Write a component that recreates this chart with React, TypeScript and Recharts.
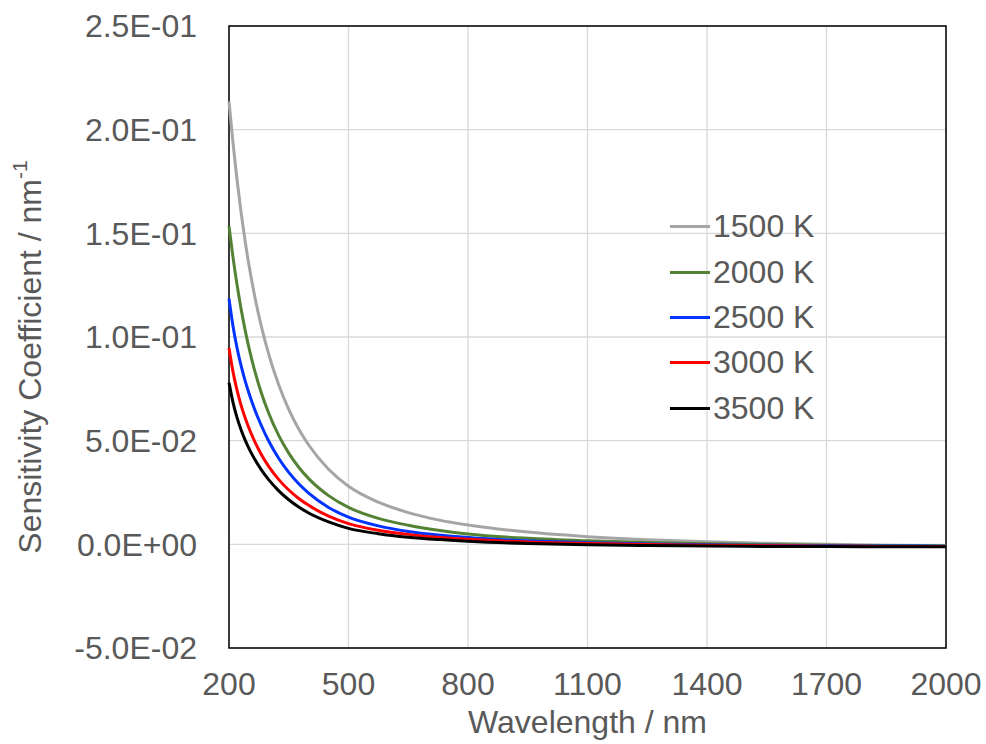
import React from 'react';
import { LineChart, Line, XAxis, YAxis, CartesianGrid, Legend, ReferenceArea } from 'recharts';

const wavelengths = [200, 210, 220, 230, 240, 250, 265, 280, 300, 325, 350, 375, 400, 450, 500, 575, 650, 725, 800, 950, 1100, 1250, 1400, 1550, 1700, 1850, 2000];

const k1500 = [0.2136, 0.1937, 0.1761, 0.1606, 0.1469, 0.1348, 0.1192, 0.1061, 0.0915, 0.0768, 0.0651, 0.0556, 0.0479, 0.0362, 0.0280, 0.0203, 0.0153, 0.0118, 0.0093, 0.0059, 0.0037, 0.0022, 0.0012, 0.0005, 0.0000, -0.0004, -0.0006];
const k2000 = [0.1535, 0.1385, 0.1254, 0.1139, 0.1038, 0.0949, 0.0834, 0.0737, 0.0631, 0.0524, 0.0440, 0.0372, 0.0317, 0.0235, 0.0178, 0.0125, 0.0092, 0.0068, 0.0050, 0.0029, 0.0017, 0.0009, 0.0003, -0.0001, -0.0004, -0.0006, -0.0008];
const k2500 = [0.1185, 0.1053, 0.0949, 0.0864, 0.0792, 0.0730, 0.0648, 0.0578, 0.0497, 0.0414, 0.0347, 0.0292, 0.0247, 0.0178, 0.0131, 0.0089, 0.0062, 0.0045, 0.0033, 0.0017, 0.0008, 0.0002, -0.0002, -0.0005, -0.0007, -0.0008, -0.0009];
const k3000 = [0.0947, 0.0833, 0.0745, 0.0673, 0.0613, 0.0561, 0.0494, 0.0437, 0.0375, 0.0312, 0.0262, 0.0221, 0.0188, 0.0136, 0.0100, 0.0068, 0.0048, 0.0034, 0.0024, 0.0011, 0.0004, -0.0001, -0.0004, -0.0007, -0.0009, -0.0010, -0.0011];
const k3500 = [0.0780, 0.0685, 0.0612, 0.0554, 0.0505, 0.0463, 0.0409, 0.0363, 0.0311, 0.0258, 0.0215, 0.0180, 0.0151, 0.0108, 0.0077, 0.0051, 0.0034, 0.0023, 0.0015, 0.0004, -0.0002, -0.0006, -0.0008, -0.0010, -0.0011, -0.0012, -0.0012];

const seriesNames = ['1500 K', '2000 K', '2500 K', '3000 K', '3500 K'];
const seriesKeys = ['k1500', 'k2000', 'k2500', 'k3000', 'k3500'];
const seriesColors = ['#A5A5A5', '#548235', '#0033FF', '#FF0000', '#000000'];

const xTicks = [200, 500, 800, 1100, 1400, 1700, 2000];
const yTicks = [-0.05, 0, 0.05, 0.1, 0.15, 0.2, 0.25];
const yTickLabels = ['-5.0E-02', '0.0E+00', '5.0E-02', '1.0E-01', '1.5E-01', '2.0E-01', '2.5E-01'];

const data = wavelengths.map((w, i) => ({
  w,
  k1500: k1500[i],
  k2000: k2000[i],
  k2500: k2500[i],
  k3000: k3000[i],
  k3500: k3500[i],
}));

const FONT = '"Liberation Sans", Arial, sans-serif';
const TEXT = '#595959';

const YTitle = () => (
  <text
    x={0}
    y={0}
    transform="translate(30,357) rotate(-90)"
    textAnchor="middle"
    dominantBaseline="central"
    fill={TEXT}
    fontSize={32}
    fontFamily={FONT}
  >
    Sensitivity Coefficient / nm
    <tspan fontSize={21} dy={-11}>-1</tspan>
  </text>
);

const LegendBox = (props: any) => {
  const payload = props.payload || [];
  return (
    <div style={{ fontFamily: FONT }}>
      {payload.map((p: any) => (
        <div key={p.value} style={{ display: 'flex', alignItems: 'center', height: 45.4 }}>
          <span style={{ display: 'inline-block', width: 40, height: 3, background: p.color, marginRight: 3 }} />
          <span style={{ fontSize: 32, color: TEXT, lineHeight: '45px' }}>{p.value}</span>
        </div>
      ))}
    </div>
  );
};

export default function App() {
  return (
    <div style={{ position: 'absolute', left: 0, top: 0, width: 986, height: 744, background: '#fff' }}>
      <LineChart width={986} height={744} data={data} margin={{ top: 26, right: 40, left: 0, bottom: 0 }}>
        <CartesianGrid stroke="#D9D9D9" strokeWidth={1.3} />
        <XAxis
          dataKey="w"
          type="number"
          domain={[200, 2000]}
          ticks={xTicks}
          height={96}
          axisLine={false}
          tickLine={false}
          tickSize={0}
          tickMargin={24}
          tick={{ fill: TEXT, fontSize: 32, fontFamily: FONT }}
          label={{ value: 'Wavelength / nm', position: 'insideBottom', offset: 11, fill: TEXT, fontSize: 32, fontFamily: FONT }}
        />
        <YAxis
          type="number"
          domain={[-0.05, 0.25]}
          ticks={yTicks}
          width={229}
          axisLine={false}
          tickLine={false}
          tickSize={0}
          tickMargin={32}
          tick={{ fill: TEXT, fontSize: 32, fontFamily: FONT }}
          tickFormatter={(v: number, i: number) => yTickLabels[i]}
          label={<YTitle />}
        />
        <ReferenceArea x1={200} x2={2000} y1={-0.05} y2={0.25} fill="none" stroke="#000" strokeWidth={1.5} ifOverflow="visible" />
        {seriesKeys.map((k, i) => (
          <Line
            key={k}
            dataKey={k}
            name={seriesNames[i]}
            stroke={seriesColors[i]}
            strokeWidth={3}
            dot={false}
            type="monotone"
            isAnimationActive={false}
          />
        ))}
        <Legend
          layout="horizontal"
          verticalAlign="middle"
          align="center"
          content={<LegendBox />}
          wrapperStyle={{ position: 'absolute', left: 670, top: 204, width: 170, height: 230 }}
        />
      </LineChart>
    </div>
  );
}
